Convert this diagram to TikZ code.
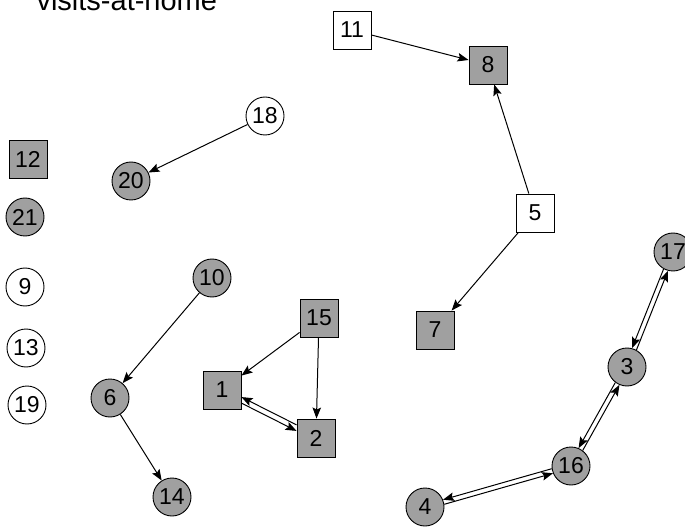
\documentclass[tikz,border=0pt]{standalone}
\usepackage{fontspec}
\setmainfont{Liberation Sans}
\usetikzlibrary{arrows.meta}
\definecolor{vgray}{RGB}{160,160,160}
\tikzset{
  base/.style={draw=black, line width=0.9pt, inner sep=0pt, font=\fontsize{23}{27}\selectfont},
  cg/.style={base, circle, minimum size=38pt, fill=vgray},
  cw/.style={base, circle, minimum size=38pt, fill=white},
  sg/.style={base, rectangle, minimum size=38pt, fill=vgray},
  sw/.style={base, rectangle, minimum size=38pt, fill=white},
  arr/.style={draw=black, line width=1pt, -{Stealth[length=11pt,width=8.5pt,inset=2pt]}}
}
\begin{document}
\begin{tikzpicture}[x=1pt,y=-1pt]
\useasboundingbox (0,0) rectangle (685,529);
\node[anchor=base west, font=\fontsize{29}{34}\selectfont] (title) at (33,11) {visits-at-home};
\node[sw] (n11) at (352,30) {11};
\node[sg] (n8) at (488,65) {8};
\node[cw] (n18) at (265,116) {18};
\node[cg] (n20) at (131,181) {20};
\node[sg] (n12) at (28,159) {12};
\node[cg] (n21) at (25,217) {21};
\node[cw] (n9) at (25,287) {9};
\node[cw] (n13) at (26,348) {13};
\node[cw] (n19) at (27,405) {19};
\node[cg] (n10) at (212,278) {10};
\node[cg] (n6) at (110,398) {6};
\node[cg] (n14) at (172,497) {14};
\node[sg] (n15) at (319,318) {15};
\node[sg] (n1) at (222,390) {1};
\node[sg] (n2) at (316,438) {2};
\node[sw] (n5) at (535,213) {5};
\node[sg] (n7) at (435,330) {7};
\node[cg] (n17) at (673,252) {17};
\node[cg] (n3) at (627,367) {3};
\node[cg] (n16) at (571,466) {16};
\node[cg] (n4) at (425,507) {4};
\draw[arr] (n11) -- (n8);
\draw[arr] (n5) -- (n8);
\draw[arr] (n5) -- (n7);
\draw[arr] (n18) -- (n20);
\draw[arr] (n10) -- (n6);
\draw[arr] (n6) -- (n14);
\draw[arr] (n15) -- (n1);
\draw[arr] (n15) -- (n2);
\draw[arr] (n1.{-34}) -- (n2.{160});
\draw[arr] (n2.{146}) -- (n1.{340});
\draw[arr] (n17.{241.2}) -- (n3.{75.2});
\draw[arr] (n3.{61.2}) -- (n17.{255.2});
\draw[arr] (n3.{233.5}) -- (n16.{67.5});
\draw[arr] (n16.{53.5}) -- (n3.{247.5});
\draw[arr] (n16.{188.7}) -- (n4.{22.7});
\draw[arr] (n4.{8.7}) -- (n16.{202.7});
\end{tikzpicture}
\end{document}
